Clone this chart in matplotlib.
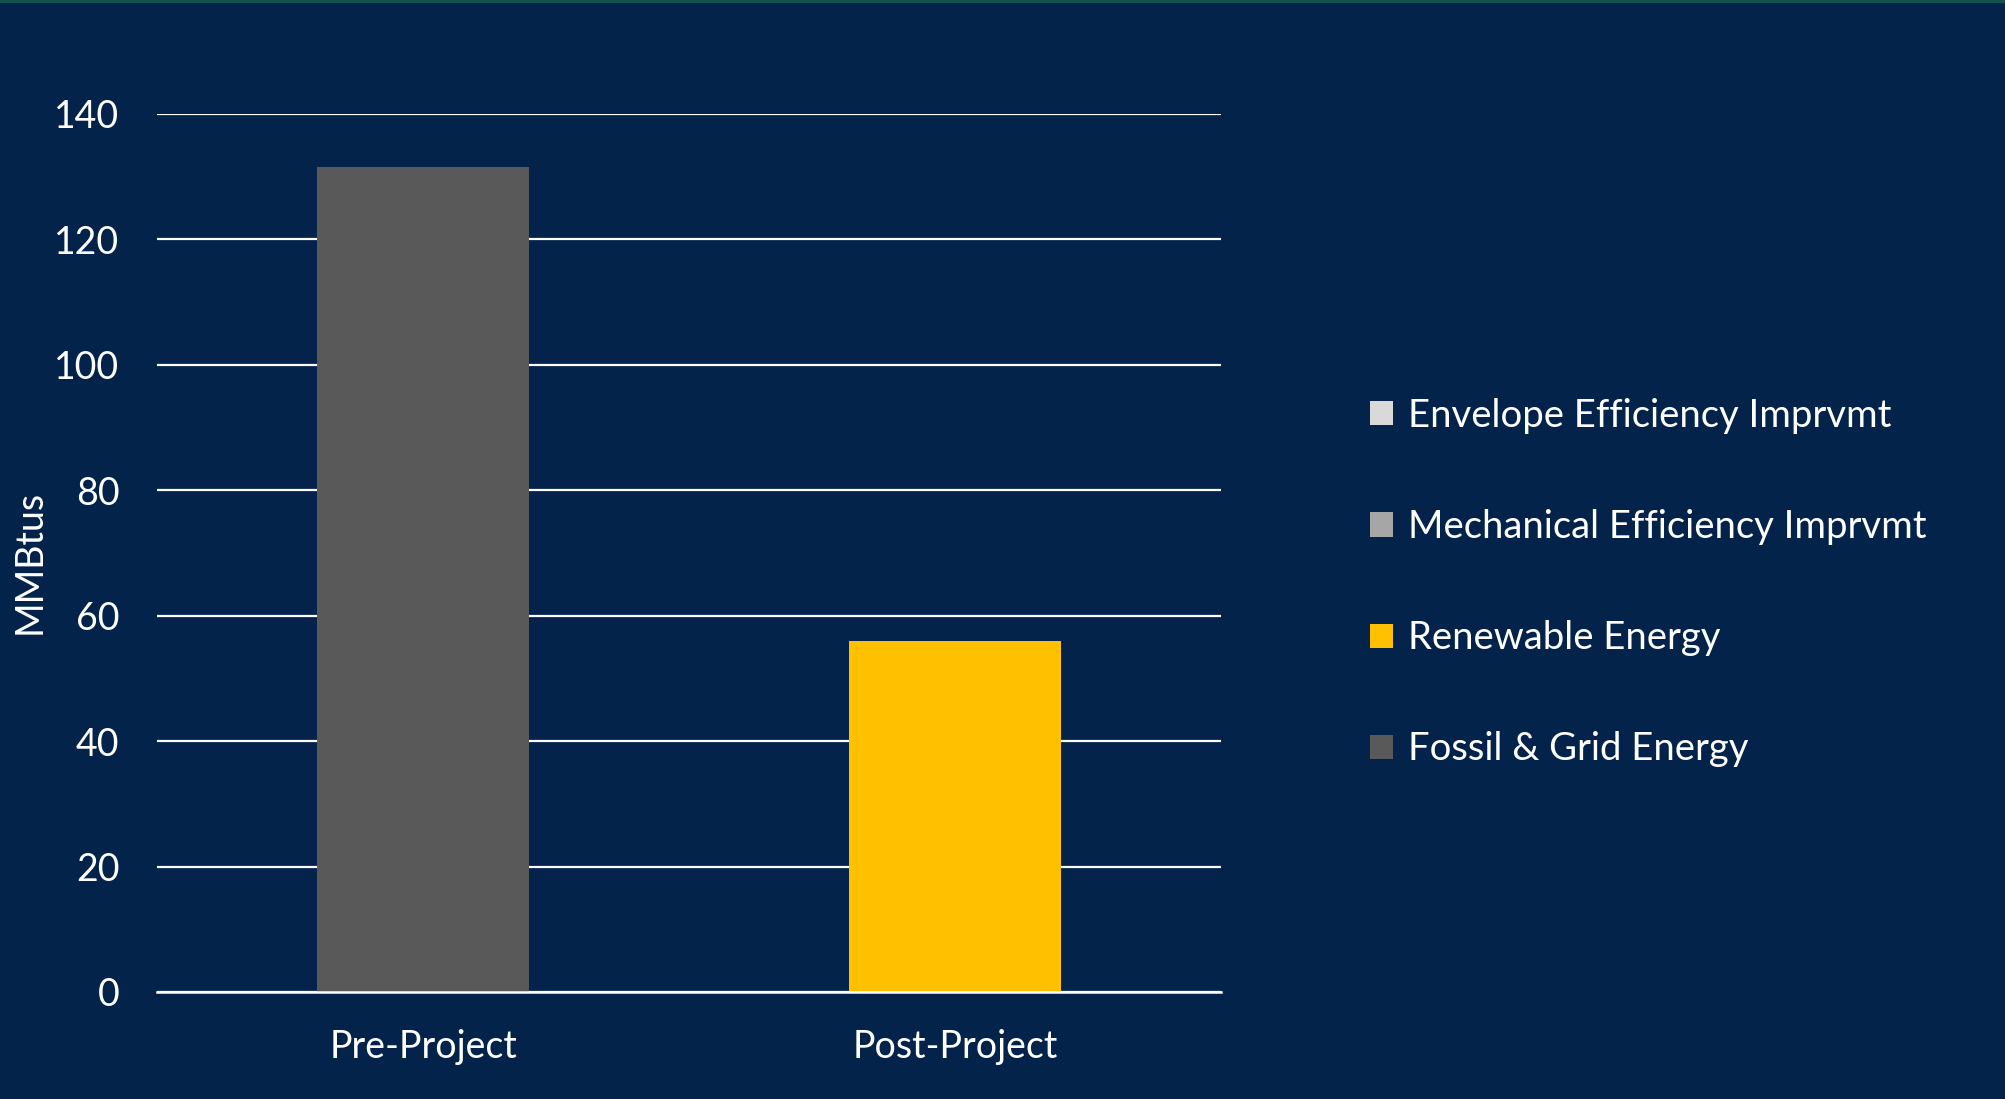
import matplotlib.pyplot as plt
import numpy as np

# chart data
categories = ['Pre-Project', 'Post-Project']
fossil = [131.5, 0]
renewable = [0, 56]
mechanical = [0, 0]
envelope = [0, 0]

series_names = ['Fossil & Grid Energy', 'Renewable Energy',
                'Mechanical Efficiency Imprvmt', 'Envelope Efficiency Imprvmt']
series_colors = ['#595959', '#FFC000', '#A6A6A6', '#D9D9D9']

bg = '#03234A'
plt.rcParams['font.family'] = ['Lato', 'DejaVu Sans']

fig = plt.figure(figsize=(20.05, 10.99), dpi=100, facecolor=bg)
ax = fig.add_axes([0.0783, 0.0974, 0.5307, 0.7989], facecolor=bg)

x = np.arange(len(categories))
bottom = np.zeros(len(categories))
handles = []
for vals, name, col in zip([fossil, renewable, mechanical, envelope],
                           series_names, series_colors):
    b = ax.bar(x, vals, 0.4, bottom=bottom, color=col, label=name, zorder=3)
    handles.append(b)
    bottom = bottom + np.array(vals)

ax.set_xlim(-0.5, 1.5)
ax.set_ylim(0, 140)
ax.set_yticks(np.arange(0, 141, 20))
ax.set_xticks(x)
ax.set_xticklabels(categories)
ax.grid(axis='y', color='white', linewidth=1.6, zorder=1)
ax.set_axisbelow(True)
for s in ['top', 'right', 'left']:
    ax.spines[s].set_visible(False)
ax.spines['bottom'].set_color('white')
ax.spines['bottom'].set_linewidth(1.8)
ax.spines['bottom'].set_zorder(4)
ax.tick_params(axis='both', length=0, colors='white', labelsize=27)
ax.tick_params(axis='y', pad=27)
ax.tick_params(axis='x', pad=27)
ax.set_ylabel('MMBtus', color='white', fontsize=27)
ax.yaxis.set_label_coords(-0.103, 0.49)

leg = fig.legend(handles[::-1], series_names[::-1], loc='center left',
                 bbox_to_anchor=(0.666, 0.470), frameon=False,
                 fontsize=27.5, labelcolor='white', handlelength=0.6,
                 handleheight=0.6, handletextpad=0.4, labelspacing=1.97)

# thin teal strip along the top edge
fig.add_artist(plt.Line2D([0, 1], [0.999, 0.999], color='#14504F',
                          linewidth=3, transform=fig.transFigure))

fig.savefig('out.png', dpi=100, facecolor=bg)
